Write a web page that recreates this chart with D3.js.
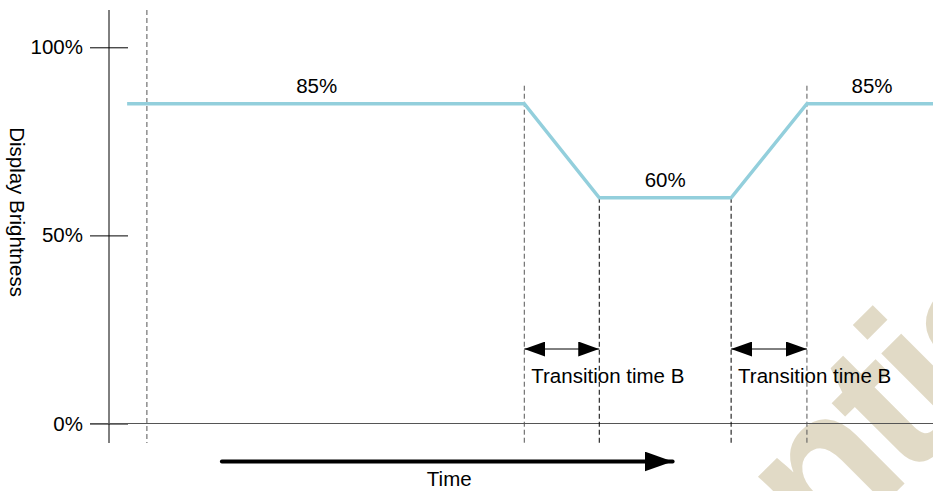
<!DOCTYPE html>
<html>
<head>
<meta charset="utf-8">
<script src="https://cdn.jsdelivr.net/npm/d3@7"></script>
<style>
  body { margin: 0; background: #fff; }
  svg { display: block; font-family: "Liberation Sans", Arial, sans-serif; }
</style>
</head>
<body>
<svg id="chart" width="933" height="491"></svg>
<script>
// brightness profile over time (time in arbitrary units 0..100)
var profileTime = [2.2, 50.4, 59.5, 75.5, 84.7, 100];
var profileBrightness = [0.85, 0.85, 0.60, 0.60, 0.85, 0.85];

// level labels
var levelTime = [25.2, 67.5, 92.6];
var levelValue = [0.85, 0.60, 0.85];
var levelText = ["85%", "60%", "85%"];

// transitions
var transitionStart = [50.4, 75.5];
var transitionEnd = [59.5, 84.7];
var transitionText = ["Transition time B", "Transition time B"];

// dashed marker lines: time and the level they start from (null = full height)
var markerTime = [4.6, 50.4, 59.5, 75.5, 84.7];
var markerFrom = [null, 0.85, 0.60, 0.60, 0.85];

// y ticks
var yTicks = [0, 0.5, 1];

// time arrow
var timeArrow = [13.7, 68.4];

var fs = 20.5;
var svg = d3.select('#chart');

var xScale = d3.scaleLinear().domain([0, 100]).range([109, 933]);
var yScale = d3.scaleLinear().domain([0, 1]).range([423.5, 47.3]);

// watermark
svg.append('text')
  .attr('transform', 'translate(335,1053) rotate(-45)')
  .attr('font-size', 205)
  .attr('font-weight', 'bold')
  .attr('letter-spacing', -10)
  .attr('fill', '#e1dac6')
  .text('Confidential');

var defs = svg.append('defs');
defs.append('marker')
  .attr('id', 'head')
  .attr('viewBox', '0 0 21 15')
  .attr('refX', 21).attr('refY', 7.5)
  .attr('markerWidth', 21).attr('markerHeight', 15)
  .attr('markerUnits', 'userSpaceOnUse')
  .attr('orient', 'auto-start-reverse')
  .append('path').attr('d', 'M0,0L21,7.5L0,15Z').attr('fill', '#000');
defs.append('marker')
  .attr('id', 'bighead')
  .attr('viewBox', '0 0 28 20')
  .attr('refX', 28).attr('refY', 10)
  .attr('markerWidth', 28).attr('markerHeight', 20)
  .attr('markerUnits', 'userSpaceOnUse')
  .attr('orient', 'auto')
  .append('path').attr('d', 'M0,0L28,10L0,20Z').attr('fill', '#000');

// y axis
var yAxis = d3.axisLeft(yScale)
  .tickValues(yTicks)
  .tickFormat(d3.format('.0%'))
  .tickSizeInner(19)
  .tickPadding(7);

var gy = svg.append('g')
  .attr('transform', 'translate(' + xScale(0) + ',0)')
  .call(yAxis);
gy.select('.domain').remove();
gy.selectAll('.tick line').attr('x2', -19).attr('x1', 19).attr('stroke', '#000');
gy.selectAll('.tick text')
  .attr('font-size', fs)
  .attr('font-family', '"Liberation Sans", Arial, sans-serif')
  .attr('fill', '#000');

svg.append('line')
  .attr('x1', xScale(0)).attr('x2', xScale(0))
  .attr('y1', 10).attr('y2', 443)
  .attr('stroke', '#000');

// x axis (0% line)
svg.append('line')
  .attr('x1', xScale(0) - 19).attr('x2', xScale(100))
  .attr('y1', yScale(0)).attr('y2', yScale(0))
  .attr('stroke', '#555');

// dashed markers
svg.selectAll('.marker')
  .data(markerTime)
  .enter().append('line')
  .attr('class', 'marker')
  .attr('x1', function(d) { return xScale(d); })
  .attr('x2', function(d) { return xScale(d); })
  .attr('y1', function(d, i) { return markerFrom[i] == null ? 10 : yScale(markerFrom[i]) - (markerFrom[i] > 0.7 ? 18 : 0); })
  .attr('y2', 443)
  .attr('stroke', function(d, i) { return (i == 2 || i == 3) ? '#000' : '#555'; })
  .attr('stroke-dasharray', '5,3');

// profile line
var line = d3.line()
  .x(function(d) { return xScale(d[0]); })
  .y(function(d) { return yScale(d[1]); });

svg.append('path')
  .datum(d3.zip(profileTime, profileBrightness))
  .attr('d', line)
  .attr('fill', 'none')
  .attr('stroke', '#93cfdc')
  .attr('stroke-width', 3.5);

// level labels
svg.selectAll('.level')
  .data(levelText)
  .enter().append('text')
  .attr('class', 'level')
  .attr('x', function(d, i) { return xScale(levelTime[i]); })
  .attr('y', function(d, i) { return yScale(levelValue[i]) - 11; })
  .attr('text-anchor', 'middle')
  .attr('font-size', fs)
  .text(function(d) { return d; });

// transition arrows
svg.selectAll('.trans')
  .data(transitionStart)
  .enter().append('line')
  .attr('class', 'trans')
  .attr('x1', function(d) { return xScale(d); })
  .attr('x2', function(d, i) { return xScale(transitionEnd[i]); })
  .attr('y1', 349).attr('y2', 349)
  .attr('stroke', '#000')
  .attr('marker-start', 'url(#head)')
  .attr('marker-end', 'url(#head)');

svg.selectAll('.transText')
  .data(transitionText)
  .enter().append('text')
  .attr('class', 'transText')
  .attr('x', function(d, i) { return xScale(transitionStart[i]) + 7; })
  .attr('y', 383)
  .attr('font-size', fs)
  .text(function(d) { return d; });

// time arrow
svg.append('line')
  .attr('x1', xScale(timeArrow[0])).attr('x2', xScale(timeArrow[1]))
  .attr('y1', 461.5).attr('y2', 461.5)
  .attr('stroke', '#000')
  .attr('stroke-width', 4)
  .attr('stroke-linecap', 'round')
  .attr('marker-end', 'url(#bighead)');

svg.append('text')
  .attr('x', (xScale(timeArrow[0]) + xScale(timeArrow[1])) / 2 + 2)
  .attr('y', 485.5)
  .attr('text-anchor', 'middle')
  .attr('font-size', fs)
  .text('Time');

// y label
svg.append('text')
  .attr('transform', 'translate(10,212) rotate(90)')
  .attr('text-anchor', 'middle')
  .attr('font-size', fs)
  .text('Display Brightness');
</script>
</body>
</html>
